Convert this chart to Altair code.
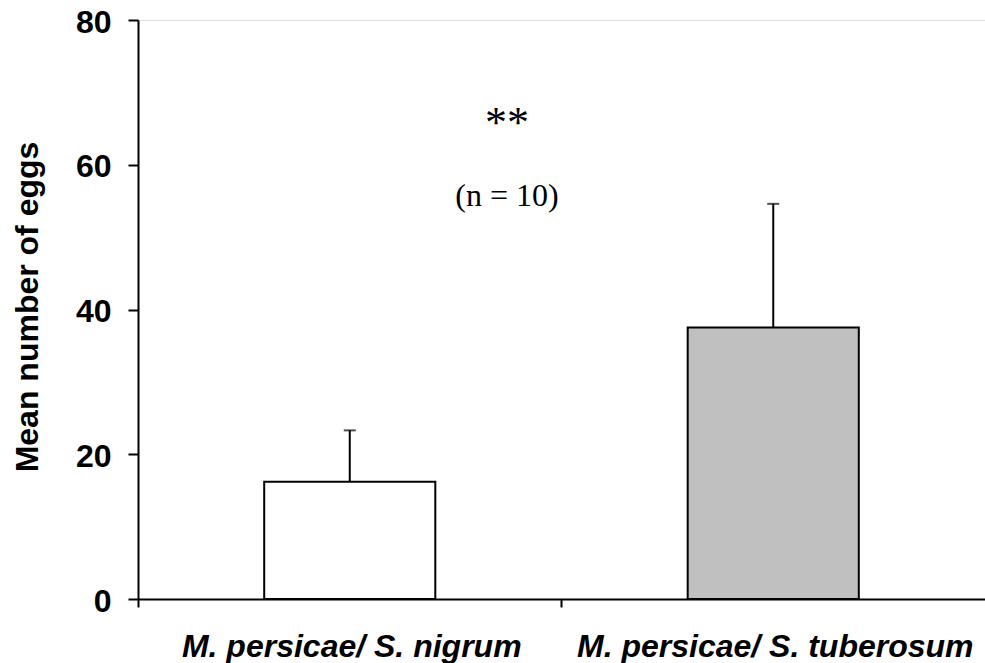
import altair as alt
import pandas as pd

# Oviposition on two host combinations: mean number of eggs with standard error
groups = ["M. persicae/ S. nigrum", "M. persicae/ S. tuberosum"]
mean_eggs = [16.2, 37.5]
std_err = [7.1, 17.1]
fills = ["#ffffff", "#c0c0c0"]

df = pd.DataFrame({
    "group": groups,
    "mean": mean_eggs,
    "upper": [m + s for m, s in zip(mean_eggs, std_err)],
    "fill": fills,
})

notes = pd.DataFrame({
    "text": ["**", "(n = 10)"],
    "y": [63.9, 54.3],
    "size": [44, 32],
})

W, H = 847, 579

x_enc = alt.X(
    "group:N",
    sort=groups,
    scale=alt.Scale(paddingInner=0, paddingOuter=0),
    axis=alt.Axis(
        title=None,
        labelAngle=0,
        labelFont="Liberation Sans",
        labelFontWeight="bold",
        labelFontStyle="italic",
        labelFontSize=32,
        labelColor="black",
        labelBaseline="alphabetic",
        labelPadding=49,
        labelLimit=600,
        labelOverlap=False,
        labelFlush=False,
        labelOffset=2,
        bandPosition=0,
        tickSize=8,
        tickWidth=2,
        tickColor="black",
        domainColor="black",
        domainWidth=2,
        grid=False,
    ),
)

y_scale = alt.Scale(domain=[0, 80], nice=False)
y_axis = alt.Axis(
    values=[0, 20, 40, 60, 80],
    title="Mean number of eggs",
    titleFont="Liberation Sans",
    titleFontWeight="bold",
    titleFontSize=32,
    titleColor="black",
    titleAngle=270,
    titleAlign="center",
    titleBaseline="alphabetic",
    titleX=-101,
    titleY=286.5,
    labelFont="Liberation Sans",
    labelFontWeight="bold",
    labelFontSize=32,
    labelColor="black",
    labelPadding=17,
    labelOffset=2,
    tickSize=10,
    tickWidth=2,
    tickColor="black",
    domainColor="black",
    domainWidth=2,
    grid=False,
)

bars = alt.Chart(df).mark_bar(
    stroke="black", strokeWidth=2, width={"band": 0.404}
).encode(
    x=x_enc,
    y=alt.Y("mean:Q", scale=y_scale, axis=y_axis),
    fill=alt.Fill("fill:N", scale=None),
)

err_line = alt.Chart(df).mark_rule(color="black", strokeWidth=2).encode(
    x=alt.X("group:N", sort=groups),
    y="mean:Q",
    y2="upper:Q",
)

err_cap = alt.Chart(df).mark_tick(
    color="black", thickness=2, size=12, orient="horizontal"
).encode(
    x=alt.X("group:N", sort=groups),
    y="upper:Q",
)

labels = alt.Chart(notes).mark_text(
    font="Liberation Serif", color="black", align="center", baseline="alphabetic"
).encode(
    x=alt.value(369),
    y=alt.Y("y:Q", scale=y_scale),
    text="text:N",
    size=alt.Size("size:Q", scale=None, legend=None),
)

chart = (
    alt.layer(bars, err_line, err_cap, labels)
    .properties(
        width=W,
        height=H,
        autosize=alt.AutoSizeParams(type="none"),
        padding={"left": 138, "top": 20, "right": 0, "bottom": 64},
    )
    .configure_view(stroke=None)
    .configure(background="white")
)

chart.save("out.html", embed_options={"renderer": "svg", "actions": False})
